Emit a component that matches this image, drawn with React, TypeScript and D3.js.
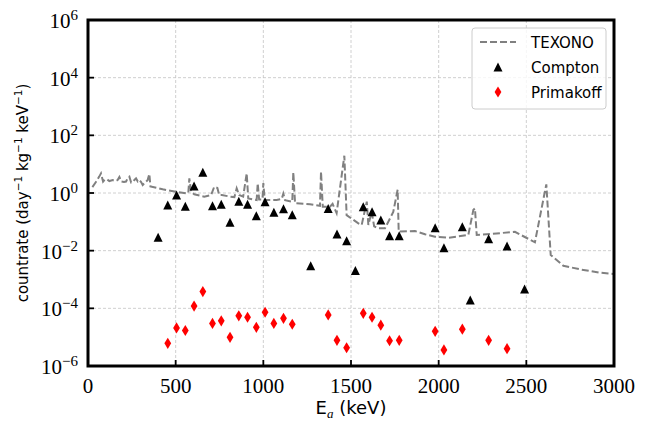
import React from "react";
import * as d3 from "d3";

// ---- data ----
const texonoSpectrum: [number, number][] = [
  [25, 1.6], [45, 2.4], [64, 3.7], [74, 4.8], [86, 2.5], [95, 2.9], [108, 3.0], [122, 2.6],
  [141, 2.8], [158, 2.6], [169, 2.8], [179, 3.6], [190, 2.5], [205, 2.4], [217, 2.5], [228, 3.4],
  [236, 3.7], [246, 2.3], [255, 2.4], [266, 2.9], [274, 3.2], [284, 2.5], [293, 2.8], [303, 2.4],
  [312, 1.9], [325, 2.3], [340, 2.8], [350, 4.6], [356, 1.7], [426, 1.34], [502, 1.11], [559, 0.97],
  [572, 1.0], [578, 3.2], [588, 1.1], [606, 0.9], [663, 0.75], [702, 0.85], [720, 1.65], [738, 1.5],
  [748, 0.85], [763, 0.85], [810, 0.75], [835, 0.72], [848, 1.45], [862, 0.85], [885, 0.75], [905, 4.8],
  [914, 0.65], [962, 0.57], [968, 2.2], [976, 0.6], [995, 0.6], [1000, 2.2], [1008, 0.57], [1076, 0.57],
  [1105, 0.62], [1114, 0.95], [1124, 0.56], [1165, 0.5], [1171, 5.2], [1181, 0.44], [1266, 0.405], [1323, 0.36],
  [1329, 5.5], [1339, 0.335], [1380, 0.335], [1395, 0.42], [1418, 0.2], [1462, 19.7], [1475, 0.17], [1542, 0.089],
  [1561, 0.078], [1590, 0.5], [1599, 0.078], [1618, 0.22], [1632, 0.07], [1656, 0.06], [1694, 0.06], [1741, 0.22],
  [1766, 1.3], [1772, 0.046], [1865, 0.048], [1922, 0.037], [1979, 0.0305], [2055, 0.028], [2169, 0.035], [2198, 0.26],
  [2207, 0.29], [2217, 0.035], [2274, 0.037], [2435, 0.045], [2549, 0.0195], [2614, 2.0], [2639, 0.0071], [2711, 0.003],
  [2806, 0.00225], [2920, 0.00172], [3000, 0.00155],
];

const comptonEnergy = [400, 455, 505, 555, 605, 655, 710, 760, 810, 860, 910, 960, 1010, 1060, 1115, 1165, 1270,
  1370, 1420, 1475, 1525, 1570, 1620, 1670, 1720, 1775, 1980, 2030, 2135, 2180, 2285, 2390, 2490];
const comptonRate = [0.029, 0.38, 0.85, 0.35, 1.75, 5.2, 0.36, 0.41, 0.096, 0.52, 0.41, 0.163, 0.5, 0.214, 0.285,
  0.177, 0.003, 0.29, 0.038, 0.022, 0.00205, 0.335, 0.224, 0.116, 0.033, 0.033, 0.0625, 0.0127, 0.068, 0.000195,
  0.026, 0.0145, 0.00047];

const primakoffEnergy = [455, 505, 555, 605, 655, 710, 760, 810, 860, 910, 960, 1010, 1060, 1115, 1165, 1370, 1420,
  1475, 1570, 1620, 1670, 1720, 1775, 1980, 2030, 2135, 2285, 2390];
const primakoffRate = [6.1e-6, 2.1e-5, 1.7e-5, 1.2e-4, 3.8e-4, 3.0e-5, 3.7e-5, 9.9e-6, 5.5e-5, 4.9e-5, 2.2e-5,
  7.3e-5, 3.0e-5, 4.5e-5, 2.8e-5, 5.9e-5, 7.8e-6, 4.3e-6, 6.7e-5, 4.9e-5, 2.6e-5, 7.5e-6, 7.8e-6, 1.6e-5, 3.6e-6,
  1.9e-5, 7.8e-6, 4.0e-6];

const xTicks = [0, 500, 1000, 1500, 2000, 2500, 3000];
const yTickExponents = [-6, -4, -2, 0, 2, 4, 6];
const legendLabels = ["TEXONO", "Compton", "Primakoff"];

// ---- layout ----
const W = 648, H = 432;
const L = 88, R = 614, T = 20, B = 366;
const serif = "'Liberation Serif', 'DejaVu Serif', serif";
const sans = "'DejaVu Sans', 'Liberation Sans', sans-serif";

const tri = (s: number) => `M0,${-s}L${s},${s}L${-s},${s}Z`;
const dia = (w: number, h: number) => `M0,${-h}L${w},0L0,${h}L${-w},0Z`;

export default function App() {
  const x = d3.scaleLinear().domain([0, 3000]).range([L, R]);
  const y = d3.scaleLog().domain([1e-6, 1e6]).range([B, T]);
  const line = d3.line<[number, number]>().x(d => x(d[0])).y(d => y(d[1]));
  const sup = (n: number) => (n < 0 ? "\u2212" + Math.abs(n) : String(n));

  return (
    <svg width={W} height={H} style={{ position: "absolute", left: 0, top: 0, background: "#fff" }}>
      <defs>
        <clipPath id="plotclip">
          <rect x={L} y={T} width={R - L} height={B - T} />
        </clipPath>
      </defs>
      <rect x={0} y={0} width={W} height={H} fill="#fff" />
      {/* grid */}
      {xTicks.filter(t => t > 0 && t < 3000).map(t => (
        <line key={"gx" + t} x1={x(t)} x2={x(t)} y1={T} y2={B} stroke="#c4c4c4" strokeWidth={0.8} strokeDasharray="3,2" />
      ))}
      {yTickExponents.filter(e => e > -6 && e < 6).map(e => (
        <line key={"gy" + e} x1={L} x2={R} y1={y(Math.pow(10, e))} y2={y(Math.pow(10, e))} stroke="#c4c4c4" strokeWidth={0.8} strokeDasharray="3,2" />
      ))}
      {/* TEXONO */}
      <path d={line(texonoSpectrum) || ""} fill="none" stroke="#808080" strokeWidth={2} strokeDasharray="7,3" clipPath="url(#plotclip)" />
      {/* Compton */}
      {comptonEnergy.map((e, i) => (
        <path key={"c" + i} d={tri(4.5)} transform={`translate(${x(e)},${y(comptonRate[i])})`} fill="#000" />
      ))}
      {/* Primakoff */}
      {primakoffEnergy.map((e, i) => (
        <path key={"p" + i} d={dia(3.4, 5.6)} transform={`translate(${x(e)},${y(primakoffRate[i])})`} fill="#ff0000" />
      ))}
      {/* ticks */}
      {xTicks.map(t => (
        <g key={"xt" + t}>
          <line x1={x(t)} x2={x(t)} y1={B} y2={B - 6} stroke="#000" strokeWidth={1.8} />
          <text x={x(t)} y={393} textAnchor="middle" fontFamily={serif} fontSize={21} fill="#000">{t}</text>
        </g>
      ))}
      {yTickExponents.map(e => (
        <g key={"yt" + e}>
          <line x1={L} x2={L + 6} y1={y(Math.pow(10, e))} y2={y(Math.pow(10, e))} stroke="#000" strokeWidth={1.8} />
          <text x={78} y={y(Math.pow(10, e)) + 8} textAnchor="end" fontFamily={serif} fontSize={21} fill="#000">
            10<tspan dy={-8} fontSize={15}>{sup(e)}</tspan>
          </text>
        </g>
      ))}
      {/* frame */}
      <rect x={L} y={T} width={R - L} height={B - T} fill="none" stroke="#000" strokeWidth={3} />
      {/* axis labels */}
      <text x={(L + R) / 2} y={414} textAnchor="middle" fontFamily={sans} fontSize={18} fill="#000">
        E<tspan dy={4} fontSize={13} fontFamily={serif} fontStyle="italic">a</tspan><tspan dy={-4}> (keV)</tspan>
      </text>
      <text transform={`translate(28,${(T + B) / 2}) rotate(-90)`} textAnchor="middle" fontFamily={sans} fontSize={15} fill="#000">
        countrate (day<tspan dy={-6} fontSize={10.5}>{"\u22121"}</tspan>
        <tspan dy={6}> kg</tspan><tspan dy={-6} fontSize={10.5}>{"\u22121"}</tspan>
        <tspan dy={6}> keV</tspan><tspan dy={-6} fontSize={10.5}>{"\u22121"}</tspan><tspan dy={6}>)</tspan>
      </text>
      {/* legend */}
      <rect x={472} y={28} width={134} height={81} rx={3} fill="#fff" fillOpacity={0.8} stroke="#cccccc" strokeWidth={1} />
      <line x1={480} x2={516} y1={42} y2={42} stroke="#808080" strokeWidth={2} strokeDasharray="7,3" />
      <path d={tri(4.5)} transform="translate(498,67)" fill="#000" />
      <path d={dia(3.4, 5.6)} transform="translate(498,92)" fill="#ff0000" />
      {legendLabels.map((lab, i) => (
        <text key={lab} x={531} y={42 + i * 25 + 5.5} fontFamily={sans} fontSize={15} fill="#000">{lab}</text>
      ))}
    </svg>
  );
}
